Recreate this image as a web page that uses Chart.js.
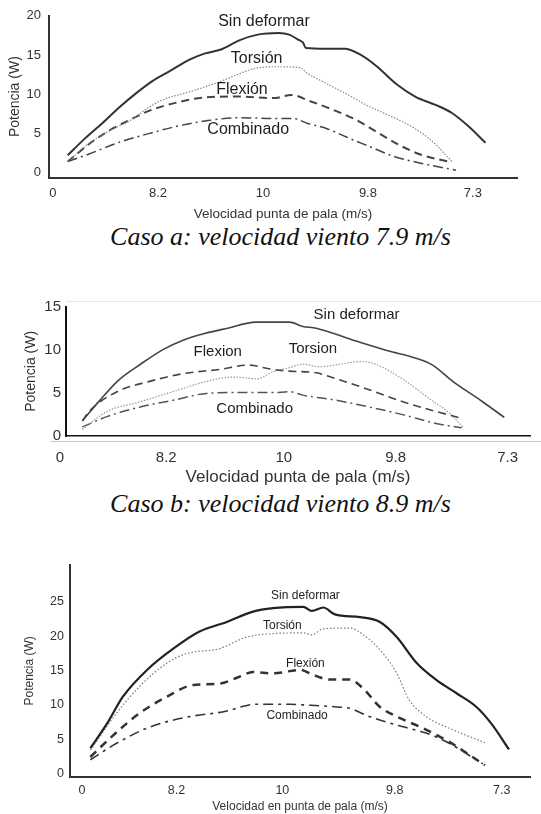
<!DOCTYPE html>
<html>
<head>
<meta charset="utf-8">
<script src="https://cdn.jsdelivr.net/npm/chart.js@4/dist/chart.umd.min.js"></script>
<style>
  html, body { margin: 0; padding: 0; background: #fff; }
  #page { position: relative; width: 541px; height: 814px; overflow: hidden; background: #fff; }
  #page canvas { position: absolute; left: 0; }
  .cap { position: absolute; left: 10px; width: 541px; text-align: center; white-space: nowrap;
         font: italic 26px 'Liberation Serif', 'Times New Roman', serif; line-height: 26px; color: #111; }
  .rule { position: absolute; height: 0; }
</style>
</head>
<body>
<div id="page">
  <canvas id="chartA" width="541" height="222" style="top:0px"></canvas>
  <div class="cap" style="top:224px">Caso a: velocidad viento 7.9 m/s</div>

  <div class="rule" style="top:301px;left:66px;width:475px;border-top:1px solid #e6e6e6"></div>
  <div class="rule" style="top:441px;left:50px;width:491px;border-top:1px solid #c6c6c6"></div>
  <canvas id="chartB" width="541" height="198" style="top:290px"></canvas>
  <div class="cap" style="top:491px">Caso b: velocidad viento 8.9 m/s</div>

  <canvas id="chartC" width="541" height="264" style="top:550px"></canvas>
</div>
<script>
// Tip-speed stations along the sweep (same labels on every panel)
const tickLabels = ['0', '8.2', '10', '9.8', '7.3'];
const aTickPos = [0, 1, 2, 3, 4];
const bTickPos = [0, 0.95, 2, 3, 4];
const cTickPos = [0, 0.9, 1.91, 2.98, 4];

// Caso a (viento 7.9 m/s): [posición, potencia W]
const aYTicks = [0, 5, 10, 15, 20];
const aSinDeformar = [[0.14,2.2],[0.3,4.3],[0.47,6.3],[0.63,8.3],[0.79,10.1],[0.95,11.7],[1.12,13.0],[1.3,14.4],[1.45,15.2],[1.6,15.7],[1.78,16.9],[1.95,17.6],[2.15,17.8],[2.25,17.6],[2.33,17.0],[2.38,16.6],[2.41,15.9],[2.6,15.8],[2.78,15.8],[2.92,15.1],[3.08,13.6],[3.27,11.3],[3.45,9.7],[3.65,8.6],[3.8,7.6],[3.95,6.0],[4.12,3.8]];
const aTorsion = [[0.14,1.4],[0.35,3.8],[0.55,5.4],[0.73,6.6],[0.9,8.2],[1.05,9.3],[1.3,10.3],[1.55,11.4],[1.72,12.3],[1.9,13.2],[2.1,13.5],[2.35,13.4],[2.42,12.7],[2.6,11.4],[2.8,10.0],[3.0,8.5],[3.25,7.0],[3.45,5.6],[3.62,3.9],[3.8,1.4]];
const aFlexion = [[0.14,1.4],[0.35,3.7],[0.54,5.4],[0.73,6.7],[0.92,7.9],[1.2,9.0],[1.46,9.6],[1.78,9.7],[2.1,9.5],[2.27,9.9],[2.45,9.1],[2.67,8.0],[2.89,6.7],[3.08,5.2],[3.3,3.5],[3.5,2.3],[3.8,1.3]];
const aCombinado = [[0.14,1.4],[0.35,2.4],[0.64,3.9],[0.92,5.0],[1.21,6.0],[1.46,6.6],[1.78,7.0],[2.1,6.9],[2.29,6.9],[2.42,6.3],[2.61,5.6],[2.8,4.5],[3.02,3.3],[3.24,2.1],[3.5,1.2],[3.84,0.3]];
const aLabels = [
  { text: 'Sin deformar', x: 2.01, y: 19.2 },
  { text: 'Torsión', x: 1.94, y: 14.5 },
  { text: 'Flexión', x: 1.8, y: 10.6 },
  { text: 'Combinado', x: 1.86, y: 5.5 }
];

// Caso b (viento 8.9 m/s)
const bYTicks = [0, 5, 10, 15];
const bSinDeformar = [[0.2,1.7],[0.35,4.0],[0.52,6.4],[0.72,8.3],[0.92,10.0],[1.1,11.1],[1.3,11.9],[1.5,12.5],[1.75,13.2],[2.05,13.2],[2.17,12.7],[2.29,12.5],[2.62,11.1],[2.92,9.9],[3.18,9.0],[3.33,8.2],[3.51,6.3],[3.78,3.9],[3.97,2.1]];
const bFlexion = [[0.2,1.7],[0.26,2.8],[0.51,5.1],[0.8,6.3],[1.1,7.2],[1.43,7.7],[1.68,8.2],[1.9,7.7],[2.05,7.5],[2.29,7.3],[2.47,6.6],[2.77,5.3],[3.07,3.9],[3.36,2.8],[3.59,2.0]];
const bTorsion = [[0.2,0.7],[0.42,2.8],[0.71,3.9],[1.01,5.1],[1.31,6.3],[1.55,6.8],[1.76,6.6],[1.9,7.4],[2.05,7.9],[2.17,8.3],[2.32,8.0],[2.5,8.3],[2.68,8.6],[2.8,8.4],[3.07,6.5],[3.3,4.3],[3.48,2.6],[3.6,1.0]];
const bCombinado = [[0.2,1.0],[0.42,2.2],[0.71,3.3],[1.01,4.1],[1.31,4.9],[1.61,5.0],[1.9,5.0],[2.05,5.1],[2.17,4.7],[2.47,4.1],[2.77,3.3],[3.07,2.4],[3.36,1.4],[3.59,0.9]];
const bLabels = [
  { text: 'Sin deformar', x: 2.65, y: 14.1 },
  { text: 'Torsion', x: 2.26, y: 10.1 },
  { text: 'Flexion', x: 1.41, y: 9.7 },
  { text: 'Combinado', x: 1.74, y: 3.05 }
];

// Caso c
const cYTicks = [0, 5, 10, 15, 20, 25];
const cSinDeformar = [[0.08,3.7],[0.24,7.3],[0.39,11.2],[0.62,15.1],[0.87,18.2],[1.12,20.7],[1.38,22.1],[1.63,23.6],[1.82,24.1],[2.11,24.3],[2.19,23.7],[2.3,24.2],[2.41,23.2],[2.65,22.8],[2.84,22.1],[3.0,19.9],[3.19,16.1],[3.38,13.6],[3.57,11.7],[3.76,9.7],[3.9,7.3],[4.07,3.5]];
const cTorsion = [[0.08,3.4],[0.33,8.8],[0.55,12.7],[0.81,16.1],[1.0,17.5],[1.31,18.2],[1.57,19.9],[1.82,20.4],[2.11,20.5],[2.19,20.2],[2.3,21.1],[2.55,21.2],[2.71,19.9],[2.87,17.5],[3.0,14.6],[3.12,10.7],[3.28,8.3],[3.5,6.6],[3.84,4.5]];
const cFlexion = [[0.08,2.4],[0.3,5.6],[0.55,8.8],[0.81,11.2],[1.06,12.9],[1.31,13.1],[1.5,14.1],[1.63,14.8],[1.82,14.6],[2.08,15.1],[2.2,14.4],[2.36,13.7],[2.55,13.7],[2.68,12.4],[2.84,9.7],[3.0,8.3],[3.25,6.6],[3.5,4.6],[3.84,1.2]];
const cCombinado = [[0.08,2.0],[0.33,4.4],[0.65,6.8],[1.03,8.3],[1.35,9.0],[1.66,10.1],[1.98,10.1],[2.11,10.0],[2.43,9.7],[2.55,9.5],[2.74,8.3],[3.06,6.8],[3.28,5.9],[3.5,4.4],[3.82,1.4]];
const cLabels = [
  { text: 'Sin deformar', x: 2.13, y: 25.9 },
  { text: 'Torsión', x: 1.91, y: 21.5 },
  { text: 'Flexión', x: 2.13, y: 16.0 },
  { text: 'Combinado', x: 2.05, y: 8.4 }
];

const FAMILY = "'Liberation Sans', Arial, Helvetica, sans-serif";

// Writes each curve's name next to it, positioned in data units
const curveLabels = {
  id: 'curveLabels',
  afterDatasetsDraw(chart, args, opts) {
    const { ctx, scales: { x, y } } = chart;
    ctx.save();
    ctx.font = opts.size + 'px ' + FAMILY;
    ctx.fillStyle = opts.color;
    ctx.textAlign = 'center';
    ctx.textBaseline = 'middle';
    for (const item of opts.items) {
      ctx.fillText(item.text, x.getPixelForValue(item.x), y.getPixelForValue(item.y));
    }
    ctx.restore();
  }
};

function toPoints(pairs) { return pairs.map(([x, y]) => ({ x, y })); }

function line(pairs, color, width, dash) {
  return {
    data: toPoints(pairs),
    borderColor: color,
    borderWidth: width,
    borderDash: dash || [],
    borderCapStyle: 'butt',
    pointRadius: 0,
    fill: false,
    cubicInterpolationMode: 'monotone'
  };
}

function makePowerChart(id, o) {
  return new Chart(document.getElementById(id), {
    type: 'line',
    data: { datasets: o.series },
    options: {
      responsive: false,
      animation: false,
      events: [],
      layout: { padding: o.padding },
      plugins: {
        legend: { display: false },
        tooltip: { enabled: false },
        curveLabels: { items: o.labels, size: o.labelSize, color: '#1e1e1e' }
      },
      scales: {
        x: {
          type: 'linear',
          min: o.xMin, max: o.xMax,
          grid: { display: false, drawTicks: false },
          border: { display: true, color: o.axisColor, width: o.xAxisWidth },
          afterBuildTicks: s => { s.ticks = o.tickPos.map(v => ({ value: v })); },
          afterFit: s => { s.height = o.xHeight; },
          ticks: {
            autoSkip: false, maxRotation: 0,
            padding: o.xTickPad,
            color: '#333',
            font: { family: FAMILY, size: o.tickSize },
            callback: v => tickLabels[o.tickPos.indexOf(v)]
          },
          title: {
            display: true, text: o.xTitle, color: '#333',
            font: { family: FAMILY, size: o.xTitleSize },
            padding: { top: 0, bottom: 0 }
          }
        },
        y: {
          type: 'linear',
          min: o.yMin, max: o.yMax,
          grid: { display: false, drawTicks: false },
          border: { display: true, color: o.axisColor, width: o.yAxisWidth },
          afterBuildTicks: s => { s.ticks = o.yTicks.map(v => ({ value: v })); },
          afterFit: s => { s.width = o.yWidth; },
          ticks: {
            padding: o.yTickPad,
            color: '#333',
            font: { family: FAMILY, size: o.tickSize }
          },
          title: {
            display: true, text: 'Potencia (W)', color: '#333',
            font: { family: FAMILY, size: o.yTitleSize },
            padding: { top: o.yTitlePad, bottom: 0 }
          }
        }
      }
    },
    plugins: [curveLabels]
  });
}

makePowerChart('chartA', {
  series: [
    line(aSinDeformar, '#333', 2),
    line(aTorsion, '#8a8a8a', 1.2, [1.5, 1.5]),
    line(aFlexion, '#444', 2, [8, 5]),
    line(aCombinado, '#444', 1.5, [10, 4, 2, 4])
  ],
  labels: aLabels, labelSize: 16, tickPos: aTickPos,
  padding: { top: 14.5, right: 24, bottom: 0, left: 0 },
  xMin: -0.038, xMax: 4.42, yMin: -0.63, yMax: 20, yTicks: aYTicks,
  xHeight: 44.5, yWidth: 49,
  tickSize: 13, xTickPad: 8, yTickPad: 8,
  xTitle: 'Velocidad punta de pala (m/s)', xTitleSize: 13.5,
  yTitleSize: 14, yTitlePad: 7,
  axisColor: '#333', xAxisWidth: 2, yAxisWidth: 2
});

makePowerChart('chartB', {
  series: [
    line(bSinDeformar, '#444', 1.6),
    line(bFlexion, '#444', 1.6, [8, 5]),
    line(bTorsion, '#999', 1.2, [1.5, 1.5]),
    line(bCombinado, '#555', 1.5, [10, 4, 2, 4])
  ],
  labels: bLabels, labelSize: 15, tickPos: bTickPos,
  padding: { top: 16.7, right: 11, bottom: 0, left: 0 },
  xMin: 0.054, xMax: 4.2, yMin: -0.06, yMax: 15, yTicks: bYTicks,
  xHeight: 52, yWidth: 66,
  tickSize: 15, xTickPad: 13, yTickPad: 5,
  xTitle: 'Velocidad punta de pala (m/s)', xTitleSize: 17,
  yTitleSize: 14, yTitlePad: 22.6,
  axisColor: '#111', xAxisWidth: 1.6, yAxisWidth: 2
});

makePowerChart('chartC', {
  series: [
    line(cSinDeformar, '#222', 2.2),
    line(cTorsion, '#7a7a7a', 1.2, [1.5, 2]),
    line(cFlexion, '#333', 2.5, [8, 6]),
    line(cCombinado, '#333', 1.6, [10, 5, 3, 5])
  ],
  labels: cLabels, labelSize: 12, tickPos: cTickPos,
  padding: { top: 15, right: 11, bottom: 0, left: 0 },
  xMin: -0.114, xMax: 4.27, yMin: -0.47, yMax: 30.4, yTicks: cYTicks,
  xHeight: 37.3, yWidth: 70,
  tickSize: 12.5, xTickPad: 6, yTickPad: 6,
  xTitle: 'Velocidad en punta de pala (m/s)', xTitleSize: 12,
  yTitleSize: 12, yTitlePad: 22.3,
  axisColor: '#333', xAxisWidth: 2, yAxisWidth: 2
});
</script>
</body>
</html>
